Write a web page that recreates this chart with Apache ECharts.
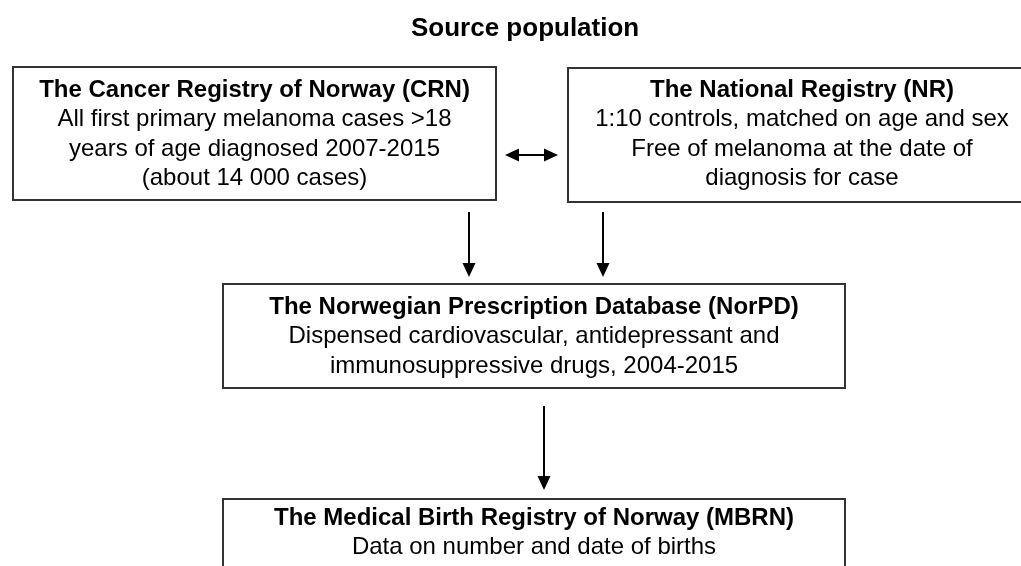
<!DOCTYPE html>
<html>
<head>
<meta charset="utf-8">
<title>Source population</title>
<script src="https://cdn.jsdelivr.net/npm/echarts@6/dist/echarts.min.js"></script>
<style>
  html, body { margin: 0; padding: 0; background: #fff; }
  #main { width: 1021px; height: 566px; }
</style>
</head>
<body>
<div id="main"></div>
<script>
const chartTitle = 'Source population'

// box texts
const boxTitles = [
  'The Cancer Registry of Norway (CRN)',
  'The National Registry (NR)',
  'The Norwegian Prescription Database (NorPD)',
  'The Medical Birth Registry of Norway (MBRN)'
]
const boxLines = [
  ['All first primary melanoma cases >18', 'years of age diagnosed 2007-2015', '(about 14 000 cases)'],
  ['1:10 controls, matched on age and sex', 'Free of melanoma at the date of', 'diagnosis for case'],
  ['Dispensed cardiovascular, antidepressant and', 'immunosuppressive drugs, 2004-2015'],
  ['Data on number and date of births']
]

// layout (diagram units = px of the 1021x566 canvas)
const boxLeft = [13, 568, 223, 223]
const boxRight = [496, 1036, 845, 845]
const boxTop = [67, 68, 284, 499]
const boxBottom = [200, 202, 388, 620]
const firstLineY = [90, 90, 307, 518]
const lineGap = 29.5

// arrows: from -> to, both = heads on both ends
const arrowFrom = [[469, 212], [603, 212], [544, 406], [505, 155]]
const arrowTo = [[469, 277], [603, 277], [544, 490], [558, 155]]
const arrowBoth = [false, false, false, true]

const FONT = '"Liberation Sans", Arial, Helvetica, sans-serif'

const chart = echarts.init(document.getElementById('main'))

const renderBox = (params, api) => {
  const i = api.value(4)
  const p0 = api.coord([api.value(0), api.value(1)])
  const p1 = api.coord([api.value(2), api.value(3)])
  const cx = (p0[0] + p1[0]) / 2
  const children = [{
    type: 'rect',
    shape: { x: p0[0], y: p0[1], width: p1[0] - p0[0], height: p1[1] - p0[1] },
    style: { fill: '#fff', stroke: '#333', lineWidth: 2 }
  }]
  const allLines = [boxTitles[i]].concat(boxLines[i])
  allLines.forEach((txt, k) => {
    const py = api.coord([0, firstLineY[i] + k * lineGap])[1]
    children.push({
      type: 'text',
      x: cx,
      y: py,
      style: {
        text: txt,
        fill: '#000',
        font: (k === 0 ? 'bold ' : '') + '24px ' + FONT,
        align: 'center',
        verticalAlign: 'middle'
      }
    })
  })
  return { type: 'group', children: children }
}

const renderArrow = (params, api) => {
  const i = params.dataIndex
  const a = api.coord([api.value(0), api.value(1)])
  const b = api.coord([api.value(2), api.value(3)])
  const both = arrowBoth[i]
  const dx = b[0] - a[0]
  const dy = b[1] - a[1]
  const len = Math.sqrt(dx * dx + dy * dy)
  const ux = dx / len
  const uy = dy / len
  const hl = 14
  const hw = 6.5
  const head = (tip, sx, sy) => ({
    type: 'polygon',
    shape: {
      points: [
        tip,
        [tip[0] - sx * hl - sy * hw, tip[1] - sy * hl + sx * hw],
        [tip[0] - sx * hl + sy * hw, tip[1] - sy * hl - sx * hw]
      ]
    },
    style: { fill: '#000' }
  })
  const start = both ? [a[0] + ux * hl, a[1] + uy * hl] : a
  const end = [b[0] - ux * hl, b[1] - uy * hl]
  const children = [{
    type: 'line',
    shape: { x1: start[0], y1: start[1], x2: end[0], y2: end[1] },
    style: { stroke: '#000', lineWidth: 2 }
  }, head(b, ux, uy)]
  if (both) children.push(head(a, -ux, -uy))
  return { type: 'group', children: children }
}

const option = {
  animation: false,
  title: {
    text: chartTitle,
    left: 406,
    top: 11,
    textStyle: { fontFamily: FONT, fontSize: 26, fontWeight: 'bold', color: '#000' }
  },
  grid: { left: 0, right: 0, top: 0, bottom: 0 },
  xAxis: { type: 'value', min: 0, max: 1021, show: false },
  yAxis: { type: 'value', min: 0, max: 566, inverse: true, show: false },
  series: [
    {
      type: 'custom',
      coordinateSystem: 'cartesian2d',
      clip: true,
      silent: true,
      data: boxTitles.map((t, i) => [boxLeft[i], boxTop[i], boxRight[i], boxBottom[i], i]),
      renderItem: renderBox
    },
    {
      type: 'custom',
      coordinateSystem: 'cartesian2d',
      silent: true,
      data: arrowFrom.map((f, i) => [f[0], f[1], arrowTo[i][0], arrowTo[i][1]]),
      renderItem: renderArrow
    }
  ]
}
chart.setOption(option)
</script>
</body>
</html>
